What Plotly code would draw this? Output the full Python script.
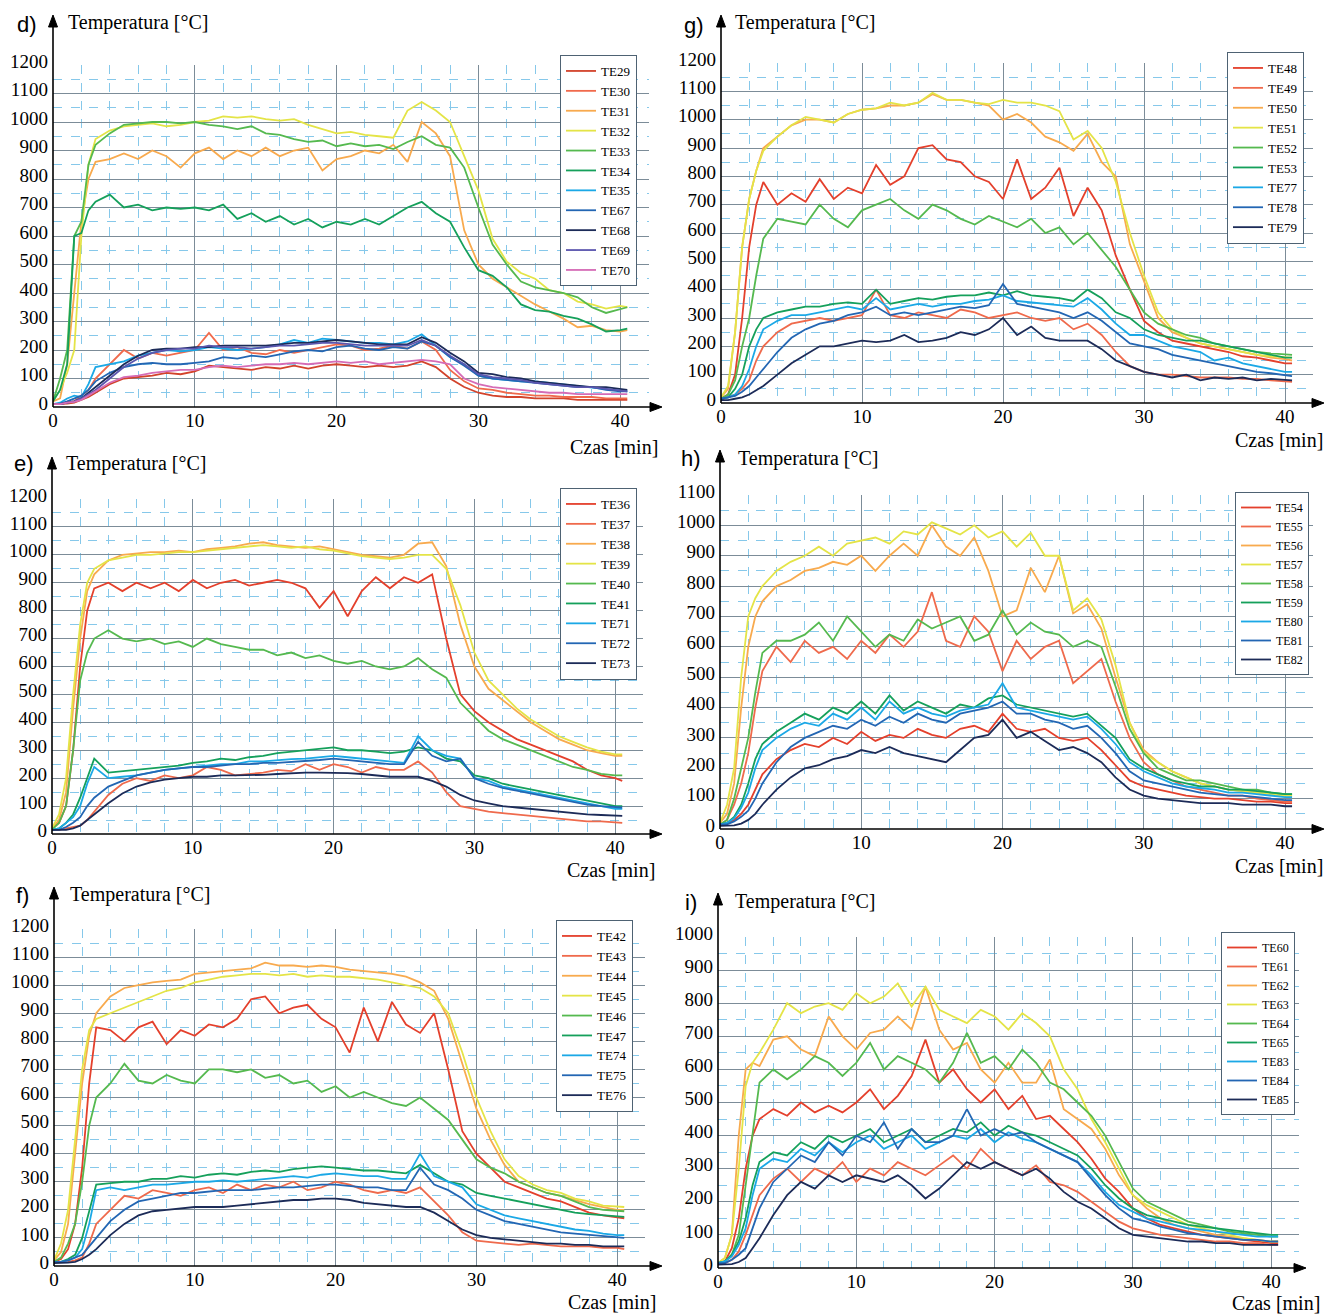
import plotly.graph_objects as go

W, H = 1325, 1315
SERIF = "Liberation Serif, Times New Roman, serif"
SANS = "Liberation Sans, Arial, sans-serif"

# time axis [min]
T = [0, 0.5, 1, 1.5, 2, 2.5, 3,
     4, 5, 6, 7, 8, 9, 10, 11, 12, 13,
     14, 15, 16, 17, 18, 19, 20, 21, 22, 23,
     24, 25, 26, 27, 28, 29, 30, 31, 32, 33,
     34, 35, 36, 37, 38, 39, 40,
     40.5]

# ---------------- panel d ----------------
D_NAMES = ["TE29", "TE30", "TE31", "TE32", "TE33", "TE34", "TE35", "TE67", "TE68", "TE69", "TE70"]
TE29 = [10, 10, 12, 15, 25, 35, 50,
        80, 100, 105, 110, 120, 115, 125, 145, 140, 135,
        130, 140, 135, 145, 135, 145, 150, 145, 140, 145,
        140, 145, 160, 140, 100, 70, 50, 40, 35, 35,
        30, 30, 30, 25, 25, 25, 25,
        25]
TE30 = [10, 10, 15, 20, 40, 60, 100,
        150, 200, 170, 190, 180, 190, 200, 260, 200, 210,
        190, 185, 200, 190, 200, 210, 220, 215, 200, 205,
        215, 205, 230, 200, 130, 90, 65, 60, 50, 45,
        40, 40, 35, 35, 35, 30, 30,
        30]
TE31 = [20, 30, 150, 400, 650, 800, 860,
        870, 890, 870, 900, 880, 840, 890, 910, 870, 900,
        880, 910, 880, 900, 910, 830, 870, 880, 900, 890,
        920, 860, 1000, 960, 880, 620, 500, 450, 420, 390,
        360, 335, 310, 280, 285, 270, 265,
        270]
TE32 = [20, 60, 120, 200, 600, 850, 940,
        970, 985, 990, 995, 985, 990, 1000, 1005, 1020, 1015,
        1020, 1010, 1005, 1010, 990, 975, 960, 965, 955, 950,
        945, 1040, 1070, 1040, 1000, 880, 760, 590, 510, 470,
        450, 410, 400, 370, 360, 345, 355,
        350]
TE33 = [20, 100, 200, 600, 650, 850, 920,
        960, 990, 995, 1000, 1000, 995, 1000, 990, 985, 975,
        985, 960, 955, 940, 930, 935, 915, 925, 915, 920,
        905, 930, 950, 920, 910, 840, 700, 570, 500, 440,
        420, 410, 400, 385, 350, 330, 345,
        350]
TE34 = [20, 60, 150, 600, 610, 690, 720,
        745, 700, 710, 690, 700, 695, 700, 690, 710, 660,
        680, 650, 670, 640, 660, 630, 650, 640, 660, 640,
        670, 700, 720, 680, 650, 560, 480, 460, 420, 360,
        340, 335, 320, 310, 290, 265, 270,
        275]
TE35 = [10, 15, 30, 40, 35, 80, 140,
        150, 160, 180, 190, 200, 195, 200, 210, 205, 200,
        205, 210, 220, 235, 225, 240, 235, 230, 225, 225,
        220, 230, 255, 215, 175, 150, 110, 100, 95, 90,
        90, 85, 80, 75, 70, 65, 60,
        55]
TE67 = [10, 12, 20, 30, 40, 60, 90,
        120, 140, 150, 155, 150, 150, 155, 160, 175, 170,
        180, 175, 185, 195, 200, 195, 210, 215, 205, 200,
        210, 205, 230, 215, 175, 145, 110, 100, 95, 90,
        85, 80, 75, 70, 70, 60, 55,
        55]
TE68 = [10, 10, 15, 20, 30, 50, 70,
        110, 150, 180, 200, 205, 205, 210, 210, 215, 215,
        215, 215, 220, 225, 225, 230, 235, 230, 225, 220,
        220, 220, 245, 225, 190, 160, 120, 115, 105, 100,
        90, 85, 80, 75, 70, 70, 65,
        60]
TE69 = [10, 10, 15, 20, 30, 45, 60,
        100, 140, 170, 190, 200, 205, 205, 215, 210, 210,
        205, 210, 215, 215, 220, 225, 225, 220, 215, 215,
        215, 215, 235, 215, 180, 150, 115, 105, 100, 95,
        85, 80, 75, 70, 70, 65, 60,
        55]
TE70 = [10, 10, 15, 18, 25, 40, 55,
        85, 105, 110, 120, 125, 130, 130, 140, 145, 140,
        145, 150, 150, 155, 150, 155, 160, 155, 160, 150,
        155, 160, 165, 160, 150, 100, 80, 70, 65, 60,
        55, 50, 50, 45, 45, 45, 45,
        45]

# ---------------- panel e ----------------
E_NAMES = ["TE36", "TE37", "TE38", "TE39", "TE40", "TE41", "TE71", "TE72", "TE73"]
TE36 = [20, 40, 100, 300, 600, 800, 880,
        900, 870, 900, 880, 900, 870, 910, 880, 900, 910,
        890, 900, 910, 900, 880, 810, 870, 780, 870, 920,
        880, 920, 900, 930, 700, 500, 440, 400, 370, 340,
        320, 300, 280, 260, 230, 210, 200,
        190]
TE37 = [15, 15, 20, 25, 30, 50, 80,
        140, 180, 200, 190, 210, 200, 210, 240, 230, 210,
        215, 220, 230, 225, 250, 230, 250, 240, 220, 240,
        230, 230, 260, 220, 150, 100, 90, 80, 75, 70,
        65, 60, 55, 50, 45, 45, 40,
        40]
TE38 = [20, 50, 150, 450, 700, 870, 930,
        980, 1000, 1005, 1010, 1010, 1015, 1010, 1020, 1025, 1030,
        1040, 1045, 1035, 1030, 1025, 1030, 1020, 1010, 1000, 995,
        990, 1000, 1040, 1045, 960, 750, 600, 520, 480, 440,
        400, 370, 340, 320, 300, 290, 280,
        280]
TE39 = [20, 70, 200, 500, 750, 900, 950,
        980, 990, 1000, 1000, 1005, 1010, 1010, 1015, 1020, 1025,
        1030, 1035, 1030, 1025, 1030, 1020, 1015, 1005, 995, 990,
        985, 990, 1000, 1000, 950, 820, 650, 550, 500, 450,
        410, 380, 350, 330, 310, 295, 285,
        285]
TE40 = [15, 40, 100, 300, 550, 650, 700,
        730, 700, 690, 700, 680, 690, 670, 700, 680, 670,
        660, 660, 640, 650, 630, 640, 620, 610, 620, 600,
        590, 600, 630, 590, 560, 470, 420, 370, 340, 320,
        300, 280, 260, 240, 230, 215, 210,
        210]
TE41 = [15, 20, 40, 70, 130, 200, 270,
        220, 225, 230, 235, 240, 245, 255, 260, 270, 265,
        275, 280, 290, 295, 300, 305, 310, 300, 300, 295,
        290, 295, 310, 300, 270, 260, 210, 200, 180, 170,
        160, 150, 140, 130, 120, 110, 100,
        100]
TE71 = [15, 20, 40, 60, 100, 180, 240,
        200, 205, 210, 220, 230, 235, 240, 245, 250, 250,
        260, 260, 265, 268, 270, 275, 280, 275, 270, 265,
        260, 255, 350, 300, 280, 270, 200, 190, 170, 160,
        150, 140, 130, 120, 110, 100, 90,
        90]
TE72 = [15, 15, 25, 40, 60, 100, 130,
        170, 190, 210, 220, 230, 235, 240, 240, 245, 250,
        250, 255, 255, 258, 260, 265, 270, 265, 260, 255,
        250, 250, 330, 280, 260, 270, 200, 180, 165, 155,
        145, 135, 125, 115, 105, 100, 95,
        95]
TE73 = [15, 15, 15, 20, 30, 50, 70,
        110, 145, 170, 185, 195, 200, 205, 205, 210, 210,
        210, 212, 215, 218, 220, 220, 220, 218, 215, 210,
        205, 205, 205, 190, 170, 140, 120, 110, 100, 95,
        90, 85, 80, 75, 70, 68, 65,
        65]

# ---------------- panel f ----------------
F_NAMES = ["TE42", "TE43", "TE44", "TE45", "TE46", "TE47", "TE74", "TE75", "TE76"]
TE42 = [15, 25, 60, 150, 350, 650, 850,
        840, 800, 850, 870, 790, 840, 820, 860, 850, 880,
        950, 960, 900, 920, 930, 880, 850, 760, 920, 800,
        940, 860, 830, 900, 700, 480, 400, 350, 300, 280,
        260, 240, 230, 210, 190, 180, 175,
        170]
TE43 = [15, 15, 15, 20, 30, 80, 150,
        200, 250, 240, 270, 260, 250, 270, 280, 260, 290,
        270, 290, 280, 300, 270, 280, 300, 290, 270, 260,
        270, 260, 280, 230, 180, 120, 90, 85, 80, 75,
        80, 75, 70, 70, 70, 65, 65,
        60]
TE44 = [20, 50, 150, 400, 650, 820, 900,
        960, 990, 1000, 1010, 1015, 1020, 1040, 1045, 1050, 1055,
        1060, 1080, 1070, 1070, 1065, 1070, 1065, 1055, 1050, 1045,
        1040, 1030, 1010, 980, 880, 720, 560, 450, 360, 300,
        280, 260, 250, 235, 220, 210, 200,
        200]
TE45 = [20, 80, 200, 450, 700, 840, 880,
        900, 920, 940, 960, 980, 990, 1010, 1020, 1030, 1035,
        1040, 1040, 1035, 1040, 1030, 1035, 1030, 1030, 1025, 1020,
        1010, 1000, 990, 960, 900, 760, 600, 480, 380, 320,
        290, 270, 260, 240, 230, 215, 210,
        210]
TE46 = [15, 30, 80, 150, 300, 500, 600,
        650, 720, 660, 650, 680, 660, 650, 700, 700, 690,
        700, 670, 680, 650, 660, 620, 640, 600, 620, 600,
        580, 570, 600, 560, 520, 450, 380, 350, 330, 300,
        280, 260, 250, 230, 210, 200, 195,
        195]
TE47 = [15, 15, 25, 40, 100, 200, 290,
        295, 300, 300, 310, 310, 320, 315, 325, 330, 325,
        335, 340, 335, 345, 350, 355, 350, 345, 340, 340,
        335, 330, 360, 330, 300, 290, 260, 250, 240, 230,
        220, 210, 200, 190, 185, 180, 175,
        175]
TE74 = [15, 15, 20, 30, 60, 150, 270,
        280, 270, 280, 290, 290, 295, 300, 300, 305, 300,
        305, 310, 315, 320, 315, 325, 330, 325, 320, 320,
        310, 310, 400, 320, 300, 280, 220, 200, 180, 170,
        160, 150, 140, 130, 125, 115, 110,
        110]
TE75 = [15, 15, 20, 30, 40, 70, 100,
        160, 200, 230, 240, 250, 260, 260, 265, 270, 270,
        270, 275, 280, 280, 285, 290, 290, 285, 280, 280,
        270, 270, 350, 290, 270, 240, 200, 180, 160, 150,
        140, 130, 120, 115, 110, 105, 100,
        100]
TE76 = [10, 10, 12, 15, 25, 40, 60,
        110, 150, 180, 195, 200, 205, 210, 210, 210, 215,
        220, 225, 230, 235, 235, 240, 240, 235, 225, 220,
        215, 210, 210, 190, 160, 130, 110, 100, 95, 90,
        85, 80, 80, 75, 75, 70, 70,
        70]

# ---------------- panel g ----------------
G_NAMES = ["TE48", "TE49", "TE50", "TE51", "TE52", "TE53", "TE77", "TE78", "TE79"]
TE48 = [15, 30, 100, 300, 550, 700, 780,
        700, 740, 710, 790, 720, 760, 740, 840, 770, 800,
        900, 910, 860, 850, 800, 780, 720, 860, 720, 760,
        830, 660, 760, 680, 520, 400, 290, 250, 220, 210,
        200, 190, 180, 165, 160, 150, 140,
        140]
TE49 = [15, 20, 30, 50, 80, 150, 200,
        250, 280, 290, 300, 290, 300, 310, 400, 310, 300,
        320, 310, 300, 330, 320, 300, 310, 320, 300, 290,
        300, 260, 280, 240, 180, 130, 110, 100, 100, 95,
        90, 90, 90, 85, 85, 80, 75,
        75]
TE50 = [20, 50, 250, 550, 720, 820, 900,
        940, 980, 1000, 1000, 990, 1020, 1035, 1040, 1050, 1050,
        1060, 1090, 1070, 1070, 1060, 1050, 1000, 1020, 990, 940,
        920, 890, 950, 850, 800, 560, 430, 300, 250, 230,
        210, 200, 190, 180, 170, 160, 155,
        150]
TE51 = [20, 60, 250, 550, 720, 820, 890,
        940, 980, 1010, 1000, 990, 1020, 1035, 1040, 1060, 1050,
        1060, 1095, 1070, 1070, 1060, 1055, 1070, 1060, 1060, 1050,
        1030, 930, 960, 900, 780, 600, 450, 320, 260, 230,
        210, 200, 190, 180, 170, 165, 160,
        160]
TE52 = [15, 30, 80, 200, 300, 450, 580,
        650, 640, 630, 700, 650, 620, 680, 700, 720, 680,
        650, 700, 680, 650, 630, 660, 640, 620, 650, 600,
        620, 560, 600, 540, 480, 400, 320, 280, 260, 240,
        230, 210, 200, 190, 180, 175, 170,
        170]
TE53 = [15, 20, 50, 100, 200, 260, 300,
        320, 330, 340, 340, 350, 355, 350, 400, 350, 360,
        370, 365, 375, 380, 380, 390, 380, 395, 380, 375,
        370, 360, 400, 370, 320, 300, 260, 240, 230, 220,
        220, 210, 200, 190, 180, 170, 160,
        160]
TE77 = [15, 20, 30, 60, 120, 200, 260,
        290, 310, 310, 320, 330, 340, 330, 370, 330, 340,
        350, 340, 350, 350, 360, 365, 380, 360, 355, 350,
        345, 340, 370, 330, 280, 240, 240, 220, 200, 190,
        180, 150, 160, 140, 130, 120, 110,
        110]
TE78 = [15, 20, 25, 40, 60, 90, 120,
        180, 230, 260, 280, 290, 310, 320, 340, 310, 320,
        310, 320, 330, 340, 335, 345, 420, 350, 340, 330,
        320, 300, 320, 290, 250, 210, 200, 190, 170, 160,
        150, 140, 130, 120, 110, 105, 100,
        95]
TE79 = [10, 10, 15, 20, 30, 45, 60,
        100, 140, 170, 200, 200, 210, 220, 215, 220, 240,
        215, 220, 230, 250, 240, 260, 300, 240, 270, 230,
        220, 220, 220, 190, 150, 130, 110, 100, 90, 100,
        80, 90, 85, 90, 80, 85, 80,
        80]

# ---------------- panel h ----------------
H_NAMES = ["TE54", "TE55", "TE56", "TE57", "TE58", "TE59", "TE80", "TE81", "TE82"]
TE54 = [15, 20, 30, 50, 80, 130, 180,
        230, 260, 280, 270, 300, 280, 320, 290, 310, 300,
        330, 310, 300, 330, 340, 320, 380, 330, 320, 330,
        300, 290, 300, 260, 210, 160, 140, 130, 120, 110,
        105, 100, 100, 95, 90, 90, 85,
        85]
TE55 = [15, 30, 80, 150, 250, 400, 520,
        600, 550, 620, 580, 600, 560, 620, 580, 640, 600,
        650, 780, 620, 600, 700, 650, 520, 620, 560, 600,
        620, 480, 520, 560, 420, 300, 220, 180, 160, 140,
        130, 120, 110, 110, 100, 95, 90,
        90]
TE56 = [20, 50, 150, 400, 600, 700, 750,
        800, 820, 850, 860, 880, 870, 900, 850, 900, 940,
        900, 1000, 930, 900, 960, 850, 700, 720, 860, 780,
        900, 710, 740, 660, 500, 350, 260, 220, 190, 170,
        150, 140, 130, 125, 120, 115, 110,
        110]
TE57 = [20, 80, 200, 500, 700, 760, 800,
        850, 880, 900, 930, 900, 940, 950, 960, 940, 980,
        970, 1010, 990, 970, 1000, 960, 980, 930, 975, 900,
        900, 720, 760, 690, 540, 350, 250, 220, 190, 170,
        150, 140, 130, 125, 120, 115, 110,
        110]
TE58 = [15, 30, 100, 200, 300, 450, 580,
        620, 620, 640, 680, 620, 700, 650, 600, 640, 620,
        690, 660, 680, 700, 620, 640, 720, 640, 680, 650,
        640, 600, 620, 600, 470, 330, 250, 200, 180, 160,
        160, 150, 140, 130, 130, 120, 115,
        115]
TE59 = [15, 20, 40, 80, 150, 230, 280,
        320, 350, 380, 360, 400, 380, 420, 380, 440, 390,
        420, 400, 380, 410, 400, 430, 440, 410, 400, 390,
        380, 370, 380, 340, 300, 230, 200, 180, 160, 150,
        140, 140, 130, 130, 125, 120, 115,
        115]
TE80 = [15, 20, 35, 70, 120, 200, 260,
        300, 330, 350, 340, 380, 360, 400, 360, 420, 380,
        400, 380, 370, 390, 400, 410, 480, 400, 390, 380,
        370, 360, 370, 330, 280, 220, 190, 170, 150, 140,
        135, 130, 120, 120, 115, 110, 105,
        105]
TE81 = [15, 15, 25, 40, 60, 100, 150,
        220, 270, 300, 320, 340, 330, 360, 340, 370, 350,
        380, 360, 350, 380, 390, 400, 420, 380, 380, 360,
        350, 330, 340, 300, 250, 190, 160, 150, 140, 130,
        120, 115, 110, 110, 105, 100, 95,
        95]
TE82 = [10, 10, 12, 18, 30, 50, 80,
        130, 170, 200, 210, 230, 240, 260, 250, 270, 250,
        240, 230, 220, 260, 300, 310, 360, 300, 320, 290,
        260, 270, 250, 220, 170, 130, 110, 100, 95, 90,
        85, 85, 85, 80, 80, 80, 75,
        75]

# ---------------- panel i ----------------
I_NAMES = ["TE60", "TE61", "TE62", "TE63", "TE64", "TE65", "TE83", "TE84", "TE85"]
TE60 = [15, 20, 60, 150, 300, 400, 450,
        480, 460, 500, 470, 490, 470, 500, 540, 480, 520,
        580, 690, 560, 600, 540, 500, 540, 480, 520, 450,
        460, 420, 380, 330, 270, 230, 180, 150, 130, 120,
        110, 100, 95, 90, 85, 80, 75,
        75]
TE61 = [15, 15, 25, 50, 100, 160, 220,
        270, 300, 260, 300, 280, 320, 260, 300, 280, 320,
        300, 280, 310, 340, 300, 360, 320, 300, 280, 310,
        260, 250, 230, 200, 170, 140, 120, 110, 100, 95,
        90, 85, 80, 80, 75, 75, 70,
        70]
TE62 = [15, 30, 100, 400, 600, 620, 610,
        690, 700, 660, 640, 760, 700, 660, 710, 720, 760,
        720, 850, 720, 660, 680, 600, 560, 620, 560, 560,
        630, 480, 450, 420, 360, 280, 220, 180, 150, 130,
        120, 110, 100, 95, 90, 85, 80,
        80]
TE63 = [15, 30, 100, 300, 550, 620, 650,
        720, 800, 770, 790, 800, 780, 830, 800, 820, 860,
        790, 850, 780, 760, 740, 780, 760, 720, 770, 740,
        700, 600, 540, 450, 380, 300, 220, 190, 170, 150,
        130, 120, 110, 100, 90, 85, 80,
        80]
TE64 = [15, 20, 40, 100, 250, 400, 560,
        600, 570, 600, 640, 620, 580, 620, 680, 600, 640,
        620, 600, 560, 620, 710, 620, 640, 600, 660, 620,
        560, 540, 500, 460, 400, 320, 240, 200, 180, 160,
        140, 130, 120, 110, 105, 100, 95,
        95]
TE65 = [15, 20, 40, 80, 150, 250, 320,
        350, 340, 380, 360, 400, 380, 400, 420, 380, 400,
        420, 380, 400, 420, 410, 440, 400, 430, 410, 400,
        380, 360, 340, 300, 250, 210, 180, 160, 150, 140,
        130, 125, 120, 115, 110, 105, 100,
        100]
TE83 = [15, 20, 35, 70, 120, 220, 300,
        330, 320, 360, 340, 380, 350, 380, 400, 360, 380,
        400, 360, 380, 400, 390, 420, 380, 410, 390, 380,
        360, 340, 320, 280, 230, 190, 170, 150, 140, 130,
        120, 115, 110, 105, 100, 95, 95,
        95]
TE84 = [15, 15, 25, 40, 60, 120, 180,
        260, 300, 340, 320, 380, 340, 400, 380, 440, 360,
        420, 380, 380, 400, 480, 400, 420, 400, 410, 380,
        360, 340, 320, 270, 220, 180, 150, 140, 125, 115,
        105, 100, 95, 90, 85, 85, 80,
        80]
TE85 = [10, 10, 12, 18, 30, 60, 90,
        160, 220, 260, 240, 280, 260, 280, 270, 260, 280,
        250, 210, 240, 280, 320, 300, 320, 300, 280, 300,
        270, 230, 200, 180, 150, 120, 100, 95, 90, 85,
        80, 80, 75, 75, 70, 70, 70,
        70]

RED, RED2, ORANGE, YELLOW = "#e4402c", "#ef6a4c", "#f8aa4e", "#e4e447"
GREEN, TEAL, CYAN, BLUE, NAVY = "#55b94f", "#15a05b", "#1ba8e6", "#2366b3", "#1c2b58"
D_COLORS = ["#d2432b", "#f06a4c", ORANGE, YELLOW, GREEN, TEAL, CYAN, BLUE, NAVY, "#5b56ae", "#d56cb6"]
STD_COLORS = [RED, RED2, ORANGE, YELLOW, GREEN, TEAL, CYAN, BLUE, NAVY]

PANELS = [
    dict(tag="d)", names=D_NAMES, data=[TE29, TE30, TE31, TE32, TE33, TE34, TE35, TE67, TE68, TE69, TE70],
         colors=D_COLORS, ymax=1200, ax=53, ay=407, top=65, ppm=14.18, ytip=15, xtip=662,
         lab=(27, 24), ttl=(66, 23), czas=(660, 447), leg=(637, 55), lfs=13),
    dict(tag="e)", names=E_NAMES, data=[TE36, TE37, TE38, TE39, TE40, TE41, TE71, TE72, TE73],
         colors=STD_COLORS, ymax=1200, ax=52, ay=834, top=499, ppm=14.08, ytip=457, xtip=662,
         lab=(24, 464), ttl=(64, 464), czas=(657, 870), leg=(637, 488), lfs=13),
    dict(tag="f)", names=F_NAMES, data=[TE42, TE43, TE44, TE45, TE46, TE47, TE74, TE75, TE76],
         colors=STD_COLORS, ymax=1200, ax=54, ay=1266, top=929, ppm=14.08, ytip=887, xtip=662,
         lab=(22, 895), ttl=(68, 894), czas=(658, 1302), leg=(633, 920), lfs=13),
    dict(tag="g)", names=G_NAMES, data=[TE48, TE49, TE50, TE51, TE52, TE53, TE77, TE78, TE79],
         colors=STD_COLORS, ymax=1200, ax=721, ay=403, top=63, ppm=14.1, ytip=15, xtip=1324,
         lab=(694, 25), ttl=(733, 23), czas=(1325, 440), leg=(1304, 52), lfs=13),
    dict(tag="h)", names=H_NAMES, data=[TE54, TE55, TE56, TE57, TE58, TE59, TE80, TE81, TE82],
         colors=STD_COLORS, ymax=1100, ax=720, ay=829, top=495, ppm=14.125, ytip=450, xtip=1324,
         lab=(691, 459), ttl=(736, 459), czas=(1325, 866), leg=(1309, 492), lfs=12),
    dict(tag="i)", names=I_NAMES, data=[TE60, TE61, TE62, TE63, TE64, TE65, TE83, TE84, TE85],
         colors=STD_COLORS, ymax=1000, ax=718, ay=1268, top=937, ppm=13.83, ytip=893, xtip=1306,
         lab=(691, 902), ttl=(733, 901), czas=(1322, 1303), leg=(1295, 932), lfs=12),
]

for p in PANELS:
    for nm, s in zip(p["names"], p["data"]):
        assert len(s) == len(T), (nm, len(s))

MAJ = "#7c8c98"
MINC = "#86c8ea"
XMAX = 42


def X(px):
    return px / W


def Y(py):
    return 1 - py / H


fig = go.Figure()
layout = dict(width=W, height=H, autosize=False,
              margin=dict(l=0, r=0, t=0, b=0, pad=0, autoexpand=False),
              paper_bgcolor="white", plot_bgcolor="white", showlegend=True)
shapes, annotations = [], []

for k, p in enumerate(PANELS, start=1):
    sx = "" if k == 1 else str(k)
    xref, yref = "x" + sx, "y" + sx
    legname = "legend" + sx
    right_px = p["ax"] + XMAX * p["ppm"]
    layout["xaxis" + sx] = dict(
        domain=[X(p["ax"]), X(right_px)], range=[0, XMAX], anchor=yref,
        tick0=0, dtick=10, showgrid=True, gridcolor=MAJ, gridwidth=1.3,
        minor=dict(dtick=2, showgrid=True, gridcolor=MINC, griddash="dash", gridwidth=1),
        zeroline=False, showline=False, ticks="", fixedrange=True, automargin=False,
        ticklabelstandoff=0,
        tickfont=dict(family=SERIF, size=19, color="black"))
    layout["yaxis" + sx] = dict(
        domain=[Y(p["ay"]), Y(p["top"])], range=[0, p["ymax"]], anchor=xref,
        tick0=0, dtick=100, showgrid=True, gridcolor=MAJ, gridwidth=1.3,
        minor=dict(dtick=50, showgrid=True, gridcolor=MINC, griddash="dash", gridwidth=1),
        zeroline=False, showline=False, ticks="", fixedrange=True, automargin=False,
        ticklabelstandoff=4, ticklabelshift=-4,
        tickfont=dict(family=SERIF, size=19, color="black"))
    layout[legname] = dict(
        x=X(p["leg"][0]), y=Y(p["leg"][1]), xanchor="right", yanchor="top",
        bgcolor="white", bordercolor="#4e6273", borderwidth=1,
        font=dict(family=SERIF, size=p["lfs"], color="black"),
        tracegroupgap=0, itemwidth=30, traceorder="normal")
    for nm, s, c in zip(p["names"], p["data"], p["colors"]):
        fig.add_trace(go.Scatter(x=T, y=s, mode="lines", name=nm,
                                 line=dict(color=c, width=1.8),
                                 xaxis=xref, yaxis=yref, legend=legname))
    ax, ay = p["ax"], p["ay"]
    # axes with arrows
    shapes.append(dict(type="line", xref="paper", yref="paper",
                       x0=X(ax), y0=Y(ay), x1=X(ax), y1=Y(p["ytip"] + 10),
                       line=dict(color="black", width=1.6)))
    shapes.append(dict(type="path", xref="paper", yref="paper",
                       path=f"M {X(ax-4.5)},{Y(p['ytip']+12)} L {X(ax)},{Y(p['ytip'])} L {X(ax+4.5)},{Y(p['ytip']+12)} Z",
                       fillcolor="black", line=dict(color="black", width=1)))
    shapes.append(dict(type="line", xref="paper", yref="paper",
                       x0=X(ax), y0=Y(ay), x1=X(p["xtip"] - 10), y1=Y(ay),
                       line=dict(color="black", width=1.6)))
    shapes.append(dict(type="path", xref="paper", yref="paper",
                       path=f"M {X(p['xtip']-12)},{Y(ay-4.5)} L {X(p['xtip'])},{Y(ay)} L {X(p['xtip']-12)},{Y(ay+4.5)} Z",
                       fillcolor="black", line=dict(color="black", width=1)))
    annotations.append(dict(text=p["tag"], xref="paper", yref="paper",
                            x=X(p["lab"][0]), y=Y(p["lab"][1]), xanchor="center", yanchor="middle",
                            showarrow=False, font=dict(family=SANS, size=22, color="black")))
    annotations.append(dict(text="Temperatura [°C]", xref="paper", yref="paper",
                            x=X(p["ttl"][0]), y=Y(p["ttl"][1]), xanchor="left", yanchor="middle",
                            showarrow=False, font=dict(family=SERIF, size=20, color="black")))
    annotations.append(dict(text="Czas [min]", xref="paper", yref="paper",
                            x=X(p["czas"][0]), y=Y(p["czas"][1]), xanchor="right", yanchor="middle",
                            showarrow=False, font=dict(family=SERIF, size=20, color="black")))

layout["shapes"] = shapes
layout["annotations"] = annotations
fig.update_layout(**layout)
fig.write_html("out.html",
               post_script="document.body.style.margin='0';document.body.style.overflow='hidden';")
